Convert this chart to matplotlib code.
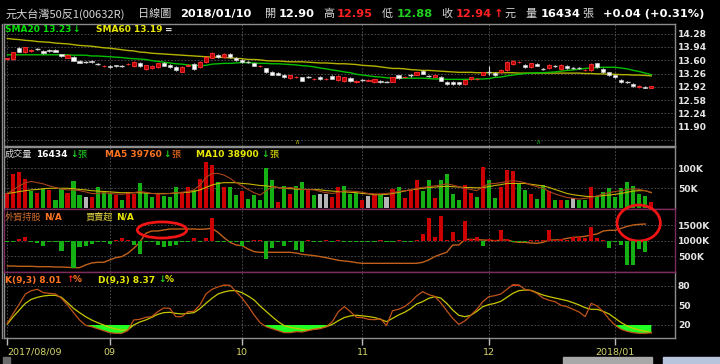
import numpy as np
import matplotlib
matplotlib.use('Agg')
import matplotlib.pyplot as plt
from matplotlib.patches import Ellipse, Rectangle

# ---- daily candles (2017/08/09 .. 2018/01/10) ----
open_px = [13.62, 13.63, 13.91, 13.80, 13.83, 13.89, 13.84, 13.86, 13.86, 13.75,
           13.67, 13.69, 13.59, 13.55, 13.59, 13.51, 13.45, 13.45, 13.47, 13.45,
           13.50, 13.45, 13.54, 13.38, 13.39, 13.42, 13.54, 13.49, 13.42, 13.31,
           13.46, 13.51, 13.42, 13.55, 13.67, 13.74, 13.69, 13.76, 13.66, 13.61,
           13.55, 13.52, 13.45, 13.39, 13.30, 13.28, 13.22, 13.14, 13.17, 13.16,
           13.16, 13.12, 13.17, 13.12, 13.20, 13.10, 13.07, 13.14, 13.04, 13.09,
           13.08, 13.04, 13.08, 13.05, 13.05, 13.21, 13.16, 13.21, 13.23, 13.33,
           13.20, 13.18, 13.18, 13.04, 13.04, 13.03, 12.99, 13.11, 13.12, 13.23,
           13.29, 13.27, 13.29, 13.35, 13.51, 13.55, 13.48, 13.42, 13.51, 13.37,
           13.39, 13.44, 13.37, 13.45, 13.39, 13.39, 13.35, 13.35, 13.52, 13.37,
           13.29, 13.23, 13.10, 13.03, 12.99, 12.92, 12.91, 12.90]
close_px = [13.65, 13.80, 13.82, 13.93, 13.86, 13.89, 13.78, 13.83, 13.82, 13.71,
            13.73, 13.59, 13.54, 13.55, 13.56, 13.51, 13.46, 13.42, 13.44, 13.45,
            13.51, 13.55, 13.45, 13.47, 13.45, 13.52, 13.46, 13.43, 13.35, 13.43,
            13.47, 13.38, 13.56, 13.68, 13.78, 13.69, 13.76, 13.69, 13.61, 13.55,
            13.55, 13.46, 13.46, 13.30, 13.23, 13.23, 13.17, 13.21, 13.18, 13.08,
            13.16, 13.13, 13.12, 13.13, 13.13, 13.20, 13.16, 13.07, 13.08, 13.09,
            13.09, 13.11, 13.04, 13.05, 13.16, 13.14, 13.17, 13.21, 13.29, 13.26,
            13.20, 13.22, 13.08, 12.99, 12.99, 12.99, 13.10, 13.16, 13.13, 13.29,
            13.29, 13.22, 13.35, 13.56, 13.59, 13.56, 13.42, 13.52, 13.46, 13.37,
            13.48, 13.44, 13.48, 13.39, 13.39, 13.39, 13.36, 13.51, 13.42, 13.29,
            13.22, 13.17, 13.04, 13.03, 12.94, 12.93, 12.90, 12.94]
high_px = [13.66, 13.82, 13.93, 13.95, 13.88, 13.92, 13.86, 13.88, 13.88, 13.77,
           13.75, 13.71, 13.61, 13.58, 13.61, 13.54, 13.48, 13.47, 13.49, 13.48,
           13.53, 13.57, 13.56, 13.49, 13.47, 13.54, 13.56, 13.51, 13.44, 13.45,
           13.50, 13.53, 13.58, 13.70, 13.80, 13.76, 13.78, 13.78, 13.68, 13.63,
           13.58, 13.54, 13.48, 13.41, 13.32, 13.30, 13.24, 13.23, 13.20, 13.18,
           13.19, 13.15, 13.19, 13.15, 13.22, 13.22, 13.18, 13.16, 13.10, 13.12,
           13.11, 13.13, 13.10, 13.07, 13.18, 13.23, 13.19, 13.24, 13.31, 13.35,
           13.23, 13.24, 13.20, 13.06, 13.06, 13.05, 13.12, 13.18, 13.15, 13.31,
           13.44, 13.29, 13.37, 13.58, 13.61, 13.58, 13.50, 13.54, 13.53, 13.40,
           13.50, 13.47, 13.50, 13.47, 13.42, 13.42, 13.38, 13.53, 13.54, 13.39,
           13.31, 13.25, 13.12, 13.06, 13.01, 12.96, 12.94, 12.95]
low_px = [13.60, 13.61, 13.80, 13.78, 13.81, 13.86, 13.76, 13.81, 13.80, 13.69,
          13.65, 13.57, 13.52, 13.52, 13.54, 13.48, 13.43, 13.40, 13.42, 13.42,
          13.47, 13.43, 13.43, 13.36, 13.37, 13.40, 13.44, 13.41, 13.33, 13.29,
          13.44, 13.36, 13.40, 13.53, 13.65, 13.67, 13.67, 13.67, 13.59, 13.53,
          13.52, 13.44, 13.43, 13.28, 13.21, 13.21, 13.15, 13.12, 13.15, 13.06,
          13.14, 13.10, 13.10, 13.10, 13.11, 13.08, 13.05, 13.05, 13.02, 13.06,
          13.06, 13.02, 13.02, 13.03, 13.03, 13.12, 13.14, 13.18, 13.21, 13.24,
          13.18, 13.16, 13.06, 12.97, 12.97, 12.97, 12.97, 13.09, 13.10, 13.21,
          13.22, 13.20, 13.27, 13.33, 13.49, 13.52, 13.40, 13.40, 13.44, 13.35,
          13.37, 13.42, 13.35, 13.37, 13.37, 13.37, 13.33, 13.33, 13.40, 13.27,
          13.20, 13.15, 13.02, 13.01, 12.92, 12.90, 12.89, 12.88]

# moving averages of price
sma20 = [13.74, 13.74, 13.74, 13.74, 13.74, 13.74, 13.74, 13.74, 13.74, 13.74,
         13.74, 13.73, 13.73, 13.73, 13.71, 13.71, 13.70, 13.69, 13.68, 13.67,
         13.65, 13.64, 13.63, 13.62, 13.59, 13.57, 13.55, 13.53, 13.51, 13.50,
         13.48, 13.47, 13.46, 13.47, 13.50, 13.51, 13.52, 13.52, 13.53, 13.54,
         13.54, 13.53, 13.52, 13.52, 13.51, 13.51, 13.50, 13.49, 13.48, 13.46,
         13.45, 13.43, 13.40, 13.38, 13.35, 13.33, 13.30, 13.28, 13.24, 13.22,
         13.20, 13.18, 13.17, 13.15, 13.14, 13.14, 13.14, 13.14, 13.14, 13.14,
         13.13, 13.12, 13.12, 13.11, 13.11, 13.11, 13.11, 13.11, 13.12, 13.12,
         13.13, 13.16, 13.17, 13.20, 13.22, 13.24, 13.26, 13.27, 13.28, 13.28,
         13.29, 13.30, 13.32, 13.34, 13.35, 13.37, 13.39, 13.40, 13.41, 13.42,
         13.42, 13.42, 13.40, 13.38, 13.34, 13.31, 13.27, 13.23]
sma60 = [14.16, 14.14, 14.13, 14.11, 14.10, 14.08, 14.07, 14.06, 14.04, 14.03,
         14.02, 14.00, 13.98, 13.97, 13.96, 13.94, 13.92, 13.91, 13.89, 13.87,
         13.85, 13.84, 13.81, 13.80, 13.78, 13.77, 13.76, 13.75, 13.74, 13.73,
         13.72, 13.71, 13.70, 13.69, 13.68, 13.68, 13.67, 13.66, 13.65, 13.64,
         13.62, 13.62, 13.61, 13.59, 13.58, 13.58, 13.57, 13.56, 13.56, 13.56,
         13.55, 13.54, 13.53, 13.53, 13.52, 13.51, 13.51, 13.50, 13.49, 13.47,
         13.46, 13.45, 13.43, 13.41, 13.39, 13.39, 13.38, 13.36, 13.35, 13.34,
         13.34, 13.33, 13.32, 13.31, 13.30, 13.29, 13.29, 13.29, 13.28, 13.28,
         13.28, 13.28, 13.28, 13.28, 13.28, 13.27, 13.27, 13.27, 13.27, 13.27,
         13.27, 13.27, 13.27, 13.27, 13.27, 13.27, 13.26, 13.26, 13.25, 13.25,
         13.24, 13.24, 13.23, 13.23, 13.22, 13.22, 13.21, 13.20]

# ---- volume (thousand lots) and direction vs previous close ----
volume_k = [37.5, 86, 91, 74, 44, 39, 47, 46, 22, 47,
            37, 67, 33, 27, 27, 52, 42, 36, 33, 22,
            41, 36, 62, 37, 29, 36, 31, 29, 54, 37,
            52, 46, 74, 116, 107, 66, 53, 54, 32, 44,
            23, 33, 21, 101, 71, 17, 56, 36, 56, 66,
            49, 33, 36, 36, 27, 52, 56, 36, 39, 22,
            31, 32, 32, 29, 47, 52, 25, 46, 71, 44,
            71, 25, 71, 86, 36, 22, 59, 37, 27, 104,
            71, 25, 52, 96, 93, 60, 46, 36, 23, 57,
            42, 21, 21, 21, 26, 21, 22, 52, 29, 41,
            50, 27, 50, 66, 56, 36, 31, 16.4]
vol_dir = ("rrrrgrgrgg" "rggwrgggrg" "rrgggrgggr" "rgrrrgrggr" "gggggrgrgg"
           "rgwwrrgggr" "wrgwrgrrrg" "grggggrrgr" "ggrrrggrgg" "rgrgwggrgg"
           "gggggggr")
vol_ma5 = [37, 46, 56, 64, 67, 64, 61, 56, 52, 48,
           46, 46, 44, 41, 37, 37, 39, 37, 36, 35,
           37, 39, 42, 40, 37, 36, 36, 37, 39, 40,
           42, 46, 58, 77, 87, 87, 83, 75, 64, 56,
           47, 39, 33, 44, 54, 52, 50, 52, 50, 47,
           47, 46, 42, 39, 37, 40, 44, 43, 42, 40,
           37, 36, 36, 37, 39, 42, 44, 46, 50, 52,
           54, 56, 58, 61, 58, 54, 50, 47, 44, 54,
           61, 62, 64, 67, 69, 67, 64, 58, 54, 50,
           42, 36, 31, 27, 25, 23, 25, 27, 31, 36,
           39, 42, 44, 47, 49, 47, 44, 39.76]
vol_ma10 = [37, 39, 42, 44, 46, 47, 49, 50, 50, 50,
            50, 49, 47, 46, 44, 43, 42, 41, 40, 39,
            39, 39, 39, 38, 37, 37, 37, 37, 38, 39,
            40, 42, 46, 52, 58, 62, 64, 64, 64, 62,
            61, 59, 57, 56, 54, 52, 50, 49, 48, 47,
            47, 47, 46, 44, 43, 42, 41, 40, 39, 37,
            36, 34, 34, 35, 37, 40, 43, 46, 48, 50,
            52, 53, 54, 55, 54, 53, 52, 52, 51, 52,
            54, 57, 59, 62, 62, 62, 62, 60, 58, 56,
            52, 47, 42, 37, 34, 32, 30, 29, 30, 32,
            33, 35, 37, 40, 43, 44, 44, 38.9]

# ---- foreign investors: holding (thousand shares) and net buy/sell ----
foreign_hold_k = [194, 194, 183, 183, 183, 172, 172, 172, 161, 161,
                  151, 140, 140, 226, 291, 312, 312, 387, 462, 495,
                  602, 763, 957, 1247, 1323, 1323, 1355, 1387, 1387, 1387,
                  1387, 1387, 1376, 1387, 1409, 1280, 1108, 957, 871, 850,
                  742, 656, 635, 635, 635, 635, 635, 635, 613, 570,
                  549, 527, 495, 462, 420, 377, 355, 334, 301, 280,
                  280, 280, 280, 280, 280, 280, 280, 280, 280, 312,
                  387, 495, 570, 635, 871, 871, 1043, 1054, 1043, 1032,
                  1022, 1011, 1022, 1043, 979, 957, 957, 936, 925, 957,
                  1032, 1032, 1043, 1086, 1118, 1129, 1151, 1194, 1226, 1323,
                  1344, 1344, 1409, 1473, 1516, 1538, 1548, np.nan]
foreign_net = [-400, -300, 600, 1200, -300, -600, -1400, -200, -400, -3000,
               -200, -8200, -1700, -1400, -800, -200, -300, -800, 400, 800,
               400, -1200, -4000, -200, -300, -1200, -1800, -1400, -1200, -200,
               -300, 1000, -200, 800, 6800, -200, -300, -200, -300, -1400,
               -200, 200, 200, -5400, -2200, -200, -1400, -200, -2700, -3400,
               300, -200, -300, 200, -400, 200, -200, -300, -200, -200,
               -300, -200, 200, -200, -300, 200, -200, -300, 400, 2000,
               7000, 1200, 7600, 200, 2800, 200, 6000, 600, 1100, -1400,
               600, 300, 3300, 600, -200, -300, -200, 200, 300, 200,
               3300, 400, 600, 400, 1300, 1200, 1000, 4200, 800, 200,
               -2200, -200, -1200, -7200, -7200, -2500, -3200, np.nan]

# ---- KD(9,3) ----
k_val = [22.6, 37.9, 52.3, 67.7, 72.8, 74.9, 69.7, 68.7, 67.7, 61.0,
         50.8, 39.0, 27.7, 19.5, 17.4, 14.3, 11.3, 8.2, 7.2, 7.2,
         11.3, 27.7, 28.7, 31.8, 32.8, 40.5, 46.1, 45.6, 32.8, 32.8,
         40.5, 41.0, 50.8, 67.7, 74.9, 78.5, 81.5, 81.0, 71.3, 61.5,
         49.2, 35.4, 23.6, 17.4, 14.3, 11.3, 8.2, 8.2, 9.7, 9.2,
         11.3, 13.3, 14.3, 17.4, 25.1, 40.5, 48.2, 40.5, 31.8, 31.3,
         28.7, 28.2, 29.7, 19.0, 42.0, 44.1, 48.2, 55.4, 64.6, 71.3,
         66.7, 64.1, 54.3, 42.0, 30.2, 21.0, 26.1, 34.9, 44.1, 55.9,
         63.6, 65.1, 67.7, 74.9, 82.0, 81.5, 74.9, 72.8, 68.7, 61.5,
         58.0, 55.9, 50.2, 48.2, 44.1, 40.0, 32.8, 53.3, 49.2, 40.5,
         28.7, 19.5, 13.3, 10.2, 8.2, 7.2, 7.2, 8.01]
d_val = [21.5, 32.8, 43.1, 53.3, 59.5, 62.6, 64.6, 65.6, 65.6, 62.6,
         54.3, 45.6, 39.0, 32.8, 27.7, 23.6, 20.0, 16.4, 13.8, 12.3,
         12.3, 20.0, 24.6, 27.7, 31.8, 36.4, 39.0, 39.5, 37.9, 36.9,
         37.9, 39.0, 45.1, 53.3, 61.0, 67.7, 70.8, 72.8, 72.8, 69.7,
         64.6, 58.5, 49.2, 41.0, 32.8, 25.1, 19.0, 16.4, 14.9, 13.3,
         12.3, 13.8, 15.3, 17.4, 21.0, 26.7, 31.5, 34.0, 35.0, 34.0,
         33.0, 31.5, 28.7, 25.1, 30.2, 35.4, 39.5, 45.1, 52.3, 55.9,
         61.0, 63.6, 61.5, 53.3, 43.1, 34.9, 32.8, 34.9, 41.0, 48.2,
         51.3, 53.3, 56.4, 62.6, 68.7, 72.8, 73.8, 73.3, 69.7, 66.1,
         63.6, 61.5, 59.5, 57.4, 54.3, 50.8, 46.6, 44.1, 44.1, 41.0,
         36.9, 30.2, 23.6, 18.5, 14.9, 12.3, 10.2, 8.37]

# month starts (bar index) and axis tick values
month_idx = [0, 17, 39, 59, 80, 101]
month_lab = ['2017/08/09', '09', '10', '11', '12', '2018/01']
price_ticks = [14.28, 13.94, 13.60, 13.26, 12.92, 12.58, 12.24, 11.90, 11.56]
vol_ticks = [50, 100]
hold_ticks = [500, 1000, 1500]
kd_ticks = [20, 50, 80]

O = np.array(open_px); C = np.array(close_px)
Hi = np.array(high_px); Lo = np.array(low_px)
N = len(C)
x = np.arange(N)

W, H = 720, 364
fig = plt.figure(figsize=(W / 100, H / 100), dpi=100, facecolor='black')

GRID = '#575757'
FRAME = '#8c8c8c'
MAG = '#7c2c5c'
CJK = ['Noto Sans CJK TC', 'DejaVu Sans']


def right_ticks(ax):
    ax.yaxis.tick_right()
    ax.tick_params(axis='y', length=0, pad=2, labelsize=6.6, labelcolor='#e6e6e6')


def panel(x0, y0, x1, y1, share=None):
    ax = fig.add_axes([x0 / W, 1 - y1 / H, (x1 - x0) / W, (y1 - y0) / H], sharex=share)
    ax.set_facecolor('black')
    ax.set_axisbelow(True)
    ax.grid(True, color=GRID, ls=(0, (2, 2)), lw=0.6)
    right_ticks(ax)
    ax.tick_params(axis='x', length=0, labelbottom=False)
    for s in ax.spines.values():
        s.set_color(FRAME)
        s.set_linewidth(1)
    return ax


ax_p = panel(4, 24, 675, 146)
ax_v = panel(4, 147, 675, 209, ax_p)
ax_f = panel(4, 209, 675, 272, ax_p)
ax_k = panel(4, 272, 675, 338, ax_p)

ax_p.set_xlim(-0.55, 110.93)
ax_p.set_xticks(month_idx)

# ---- price panel ----
ax_p.set_ylim(11.40, 14.53)
ax_p.set_yticks(price_ticks)
ax_p.set_yticklabels(['%.2f' % v for v in price_ticks[:-1]] + [''], fontweight='bold')
ax_p.plot(x, sma60, color='#b4b400', lw=1, zorder=2)
ax_p.plot(x, sma20, color='#00c000', lw=1, zorder=2)

up = C > O
dn = C < O
fl = C == O
wick_col = np.where(up, '#ff2a2a', '#d8d8d8')
ax_p.vlines(x, Lo, Hi, colors=wick_col, lw=0.8, zorder=3)
ax_p.bar(x[up], (C - O)[up], bottom=O[up], width=0.7, color='#c00000',
         edgecolor='#ff3030', lw=0.6, zorder=4)
ax_p.bar(x[dn], (O - C)[dn], bottom=C[dn], width=0.7, color='#ffffff',
         edgecolor='#c8c8c8', lw=0.5, zorder=4)
ax_p.hlines(O[fl], x[fl] - 0.38, x[fl] + 0.38, colors='#d0d0d0', lw=1, zorder=4)

# ---- volume panel ----
ax_v.set_ylim(-1.7, 153)
ax_v.set_yticks(vol_ticks)
ax_v.set_yticklabels(['%dK' % v for v in vol_ticks], fontweight='bold')
cmap = {'r': '#cc0000', 'g': '#14b014', 'w': '#b4b4b4'}
ax_v.bar(x, volume_k, width=0.68, color=[cmap[c] for c in vol_dir], zorder=2)
ax_v.plot(x, vol_ma10, color='#c8b400', lw=0.8, zorder=3)
ax_v.plot(x, vol_ma5, color='#a8441a', lw=0.8, zorder=3)
ax_v.spines['bottom'].set_color(MAG)

# ---- foreign panel (net buy/sell bars on a hidden twin scale) ----
ax_n = ax_f.twinx()
ax_n.set_ylim(-9300, 9600)
ax_n.set_yticks([])
for s in ax_n.spines.values():
    s.set_visible(False)
net = np.array(foreign_net)
ax_n.bar(x, net, width=0.68, color=np.where(net > 0, '#cc0000', '#14b014'), zorder=2)

ax_f.set_ylim(0, 2032)
right_ticks(ax_f)
ax_f.set_yticks(hold_ticks)
ax_f.set_yticklabels(['%dK' % v for v in hold_ticks], fontweight='bold')
for s in ax_f.spines.values():
    s.set_color(MAG)
ax_f.plot(x, foreign_hold_k, color='#c0601a', lw=1, zorder=3)

# highlight circles
for cx, cy, w, h in [(25.7, 1355, 8.2, 520), (104.9, 1580, 7.2, 1160)]:
    ax_f.add_patch(Ellipse((cx, cy), w, h, fill=False, edgecolor='#f01414',
                           lw=2, clip_on=False, zorder=10))

# ---- KD panel ----
K = np.array(k_val); D = np.array(d_val)
ax_k.set_ylim(0, 101.5)
ax_k.set_yticks(kd_ticks)
ax_k.set_yticklabels([str(v) for v in kd_ticks], fontweight='bold')
lo = np.minimum(K, D); hi = np.maximum(K, D)
ax_k.fill_between(x, 20, lo, where=lo < 20, interpolate=True, color='#22ff22', lw=0, zorder=2)
ax_k.fill_between(x, 80, hi, where=hi > 80, interpolate=True, color='#ff2020', lw=0, zorder=2)
ax_k.plot(x, D, color='#c8c800', lw=0.9, zorder=3)
ax_k.plot(x, K, color='#c05218', lw=0.9, zorder=3)
ax_k.spines['top'].set_color(MAG)
ax_k.set_xticks(month_idx)
ax_k.set_xticklabels(month_lab)
ax_k.tick_params(axis='x', length=5, width=1, color='#bdbdbd', labelbottom=True,
                 labelsize=6.8, labelcolor='#d6d66a', pad=2)
ax_k.get_xticklabels()[0].set_ha('left')


# ---- header and panel captions ----
def put(xp, yp, s, color, size=6.5, bold=True, family=None):
    fig.text(xp / W, 1 - yp / H, s, color=color, fontsize=size, va='center', ha='left',
             fontweight='bold' if bold else 'normal', family=family or ['DejaVu Sans'])


GRAY = '#d6d6d6'
RED = '#ff2020'
GRN = '#20d020'
YEL = '#e8e800'
ORG = '#ff7420'
put(5, 14, '元大台灣50反1(00632R)', GRAY, 8, False, CJK)
put(138, 14, '日線圖', GRAY, 8, False, CJK)
put(180, 14, '2018/01/10', 'white', 8.2)
put(265, 14, '開', GRAY, 8, False, CJK)
put(279, 14, '12.90', 'white', 8.2)
put(323, 14, '高', GRAY, 8, False, CJK)
put(337, 14, '12.95', RED, 8.2)
put(382, 14, '低', GRAY, 8, False, CJK)
put(397, 14, '12.88', GRN, 8.2)
put(441, 14, '收', GRAY, 8, False, CJK)
put(456, 14, '12.94', RED, 8.2)
put(494, 14, '↑', RED, 8.2)
put(505, 14, '元', GRAY, 8, False, CJK)
put(525, 14, '量', GRAY, 8, False, CJK)
put(541, 14, '16434', 'white', 8.2)
put(582, 14, '張', GRAY, 8, False, CJK)
put(603, 14, '+0.04 (+0.31%)', 'white', 8.2)

put(5, 30, 'SMA20 13.23', '#00e000')
put(72, 30, '↓', '#00e000')
put(96, 30, 'SMA60 13.19', YEL)
put(165, 30, '=', '#e0e0e0')

put(5, 154, '成交量', GRAY, 6.6, False, CJK)
put(36, 154, '16434', 'white')
put(70, 154, '↓', GRN)
put(77, 154, '張', GRN, 6.6, False, CJK)
put(105, 154, 'MA5 39760', ORG)
put(163, 154, '↓', GRN)
put(171, 154, '張', ORG, 6.6, False, CJK)
put(196, 154, 'MA10 38900', YEL)
put(261, 154, '↓', GRN)
put(269, 154, '張', YEL, 6.6, False, CJK)

put(5, 217, '外資持股', '#d06a2c', 6.6, False, CJK)
put(44, 217, 'N/A', ORG)
put(86, 217, '買賣超', '#d8cc3c', 6.6, False, CJK)
put(116, 217, 'N/A', YEL)

put(5, 280, 'K(9,3) 8.01', ORG)
put(66, 280, '↑', RED)
put(73, 280, '%', ORG)
put(98, 280, 'D(9,3) 8.37', YEL)
put(158, 280, '↓', GRN)
put(165, 280, '%', YEL)

# small event markers
put(294, 142, '∧', '#b0b000', 5, False)
put(535, 142, '∧', '#10b010', 5, False)

# left double border and scrollbar
fig.add_artist(plt.Line2D([1.5 / W, 1.5 / W], [1 - 338 / H, 1 - 24 / H], color=FRAME, lw=1))
fig.add_artist(Rectangle((563 / W, 0), 89 / W, 7 / H, color='#a8a8a8'))
fig.add_artist(Rectangle((3 / W, 0), 7 / W, 7 / H, color='#6a6a6a'))
fig.add_artist(Rectangle((663 / W, 0), 57 / W, 7 / H, color='#b8c4dc'))

fig.savefig('out.png', dpi=100, facecolor='black')
